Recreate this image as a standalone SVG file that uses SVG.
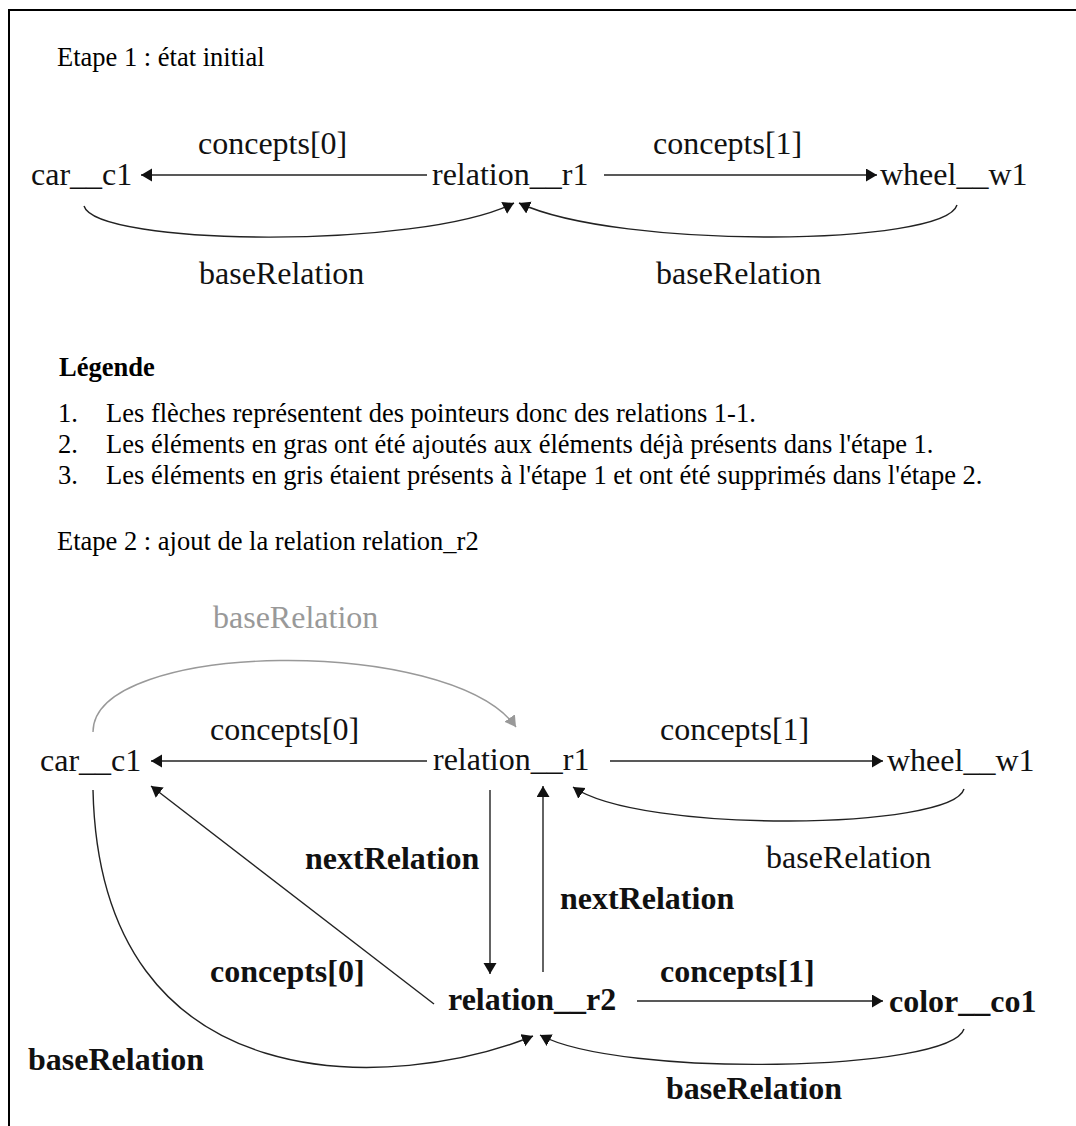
<svg xmlns="http://www.w3.org/2000/svg" width="1076" height="1126" viewBox="0 0 1076 1126">
  <defs>
    <marker id="arrow" markerUnits="userSpaceOnUse" markerWidth="12" markerHeight="14" refX="11" refY="6.5" orient="auto">
      <path d="M0,0 L11,6.5 L0,13 z" fill="#111"/>
    </marker>
    <marker id="arrow-gray" markerUnits="userSpaceOnUse" markerWidth="12" markerHeight="14" refX="11" refY="6.5" orient="auto">
      <path d="M0,0 L11,6.5 L0,13 z" fill="#999"/>
    </marker>
  </defs>
  <style>
    .doc { font-family: "Liberation Serif", "Times New Roman", serif; font-size: 26.5px; fill: #000; }
    .doc-b { font-family: "Liberation Serif", "Times New Roman", serif; font-size: 26.5px; font-weight: bold; fill: #000; }
    .lbl { font-family: "Liberation Serif", "Times New Roman", serif; font-size: 32px; fill: #111; }
    .lbl-b { font-family: "Liberation Serif", "Times New Roman", serif; font-size: 32px; font-weight: bold; fill: #111; }
    .lbl-gray { font-family: "Liberation Serif", "Times New Roman", serif; font-size: 32px; fill: #999; }
    .edge { fill: none; stroke: #222; stroke-width: 1.4; }
    .edge-gray { fill: none; stroke: #999; stroke-width: 1.4; }
  </style>

  <rect x="0" y="0" width="1076" height="1126" fill="#fff"/>
  <!-- page frame, open on the right and bottom -->
  <rect x="9" y="10" width="1200" height="1300" fill="none" stroke="#000" stroke-width="2"/>

  <!-- ===== Step 1 ===== -->
  <text class="doc" x="57" y="66">Etape 1 : état initial</text>

  <g id="step1-connectors">
    <line class="edge" x1="427" y1="175" x2="141" y2="175" marker-end="url(#arrow)"/>
    <line class="edge" x1="604" y1="175" x2="877" y2="175" marker-end="url(#arrow)"/>
    <path class="edge" d="M84,206 C96,246 420,250 514,203" marker-end="url(#arrow)"/>
    <path class="edge" d="M957,205 C945,246 620,250 519,203" marker-end="url(#arrow)"/>
    <text class="lbl" x="198" y="154">concepts[0]</text>
    <text class="lbl" x="653" y="154">concepts[1]</text>
    <text class="lbl" x="199" y="284">baseRelation</text>
    <text class="lbl" x="656" y="284">baseRelation</text>
  </g>

  <g id="s1-car_c1"><text class="lbl" x="31" y="185">car__c1</text></g>
  <g id="s1-relation_r1"><text class="lbl" x="432" y="185">relation__r1</text></g>
  <g id="s1-wheel_w1"><text class="lbl" x="880" y="185">wheel__w1</text></g>

  <!-- ===== Legend ===== -->
  <g id="legend">
    <text class="doc-b" x="59" y="376">Légende</text>
    <text class="doc" x="58" y="422">1.</text>
    <text class="doc" x="106" y="422">Les flèches représentent des pointeurs donc des relations 1-1.</text>
    <text class="doc" x="58" y="453">2.</text>
    <text class="doc" x="106" y="453">Les éléments en gras ont été ajoutés aux éléments déjà présents dans l'étape 1.</text>
    <text class="doc" x="58" y="484">3.</text>
    <text class="doc" x="106" y="484">Les éléments en gris étaient présents à l'étape 1 et ont été supprimés dans l'étape 2.</text>
  </g>

  <!-- ===== Step 2 ===== -->
  <text class="doc" x="57" y="550">Etape 2 : ajout de la relation relation_r2</text>

  <g id="step2-connectors">
    <!-- removed link (grey) -->
    <path class="edge-gray" d="M93,732 C93,640 450,635 516,727" marker-end="url(#arrow-gray)"/>
    <text class="lbl-gray" x="213" y="628">baseRelation</text>

    <line class="edge" x1="427" y1="761" x2="151" y2="761" marker-end="url(#arrow)"/>
    <line class="edge" x1="610" y1="761" x2="883" y2="761" marker-end="url(#arrow)"/>
    <path class="edge" d="M964,789 C952,830 640,834 573,787" marker-end="url(#arrow)"/>
    <text class="lbl" x="210" y="740">concepts[0]</text>
    <text class="lbl" x="660" y="740">concepts[1]</text>
    <text class="lbl" x="766" y="868">baseRelation</text>

    <!-- added links -->
    <line class="edge" x1="490" y1="790" x2="490" y2="974" marker-end="url(#arrow)"/>
    <line class="edge" x1="543" y1="972" x2="543" y2="786" marker-end="url(#arrow)"/>
    <line class="edge" x1="434" y1="1004" x2="151" y2="786" marker-end="url(#arrow)"/>
    <line class="edge" x1="637" y1="1001" x2="883" y2="1001" marker-end="url(#arrow)"/>
    <path class="edge" d="M93,790 C100,1110 400,1090 533,1036" marker-end="url(#arrow)"/>
    <path class="edge" d="M964,1029 C950,1072 620,1078 540,1035" marker-end="url(#arrow)"/>
    <text class="lbl-b" x="305" y="869">nextRelation</text>
    <text class="lbl-b" x="560" y="909">nextRelation</text>
    <text class="lbl-b" x="210" y="982">concepts[0]</text>
    <text class="lbl-b" x="660" y="982">concepts[1]</text>
    <text class="lbl-b" x="28" y="1070">baseRelation</text>
    <text class="lbl-b" x="666" y="1099">baseRelation</text>
  </g>

  <g id="s2-car_c1"><text class="lbl" x="40" y="771">car__c1</text></g>
  <g id="s2-relation_r1"><text class="lbl" x="433" y="770">relation__r1</text></g>
  <g id="s2-wheel_w1"><text class="lbl" x="887" y="771">wheel__w1</text></g>
  <g id="s2-relation_r2"><text class="lbl-b" x="448" y="1010">relation__r2</text></g>
  <g id="s2-color_co1"><text class="lbl-b" x="889" y="1012">color__co1</text></g>
</svg>
